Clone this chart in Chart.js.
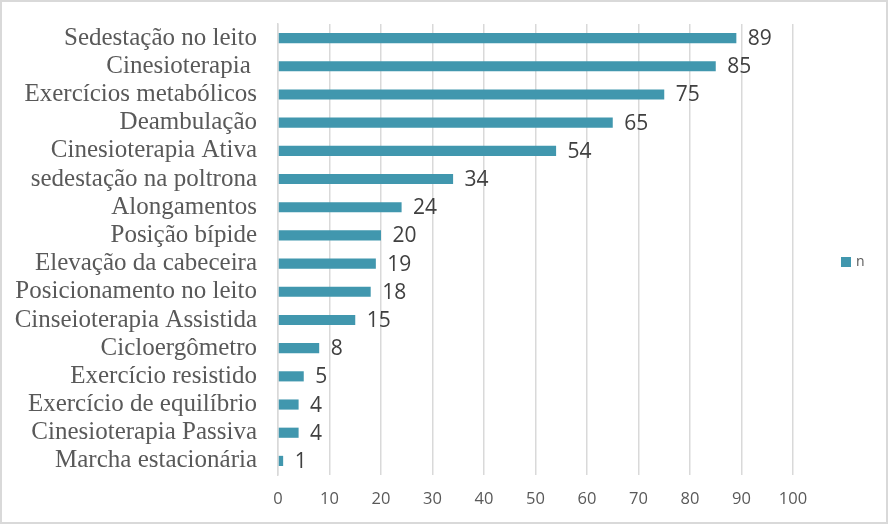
<!DOCTYPE html>
<html>
<head>
<meta charset="utf-8">
<script src="https://cdn.jsdelivr.net/npm/chart.js@4/dist/chart.umd.min.js"></script>
<style>
  html, body { margin: 0; padding: 0; background: #ffffff; }
  #grafico { display: block; }
</style>
</head>
<body>
<canvas id="grafico" width="888" height="524"></canvas>
<script>
const categorias = [
  'Sedestação no leito',
  'Cinesioterapia ',
  'Exercícios metabólicos',
  'Deambulação',
  'Cinesioterapia Ativa',
  'sedestação na poltrona',
  'Alongamentos',
  'Posição bípide',
  'Elevação da cabeceira',
  'Posicionamento no leito',
  'Cinseioterapia Assistida',
  'Cicloergômetro',
  'Exercício resistido',
  'Exercício de equilíbrio',
  'Cinesioterapia Passiva',
  'Marcha estacionária'
];
const valoresN = [89, 85, 75, 65, 54, 34, 24, 20, 19, 18, 15, 8, 5, 4, 4, 1];
const nomeSerie = 'n';

const corBarra = '#4197ae';
const corTexto = '#595959';
const corGrade = '#d9d9d9';

// rótulos de dados à direita de cada barra + moldura + legenda
const pluginRotulos = {
  id: 'rotulos',
  beforeDraw(chart) {
    const ctx = chart.ctx;
    ctx.save();
    ctx.fillStyle = '#ffffff';
    ctx.fillRect(0, 0, chart.width, chart.height);
    ctx.restore();
  },
  afterDatasetsDraw(chart) {
    const ctx = chart.ctx;
    const meta = chart.getDatasetMeta(0);
    ctx.save();
    ctx.font = '21px "Open Sans"';
    ctx.fillStyle = '#404040';
    ctx.textAlign = 'left';
    ctx.textBaseline = 'middle';
    meta.data.forEach((bar, i) => {
      ctx.fillText(String(valoresN[i]), bar.x + 11.5, bar.y + 1);
    });
    ctx.restore();
  },
  afterDraw(chart) {
    const ctx = chart.ctx;
    ctx.save();
    // legenda
    ctx.fillStyle = corBarra;
    ctx.fillRect(841, 257, 10, 10);
    ctx.fillStyle = corTexto;
    ctx.font = '14px "Open Sans"';
    ctx.textBaseline = 'middle';
    ctx.fillText(nomeSerie, 856, 262);
    // moldura
    ctx.strokeStyle = corGrade;
    ctx.lineWidth = 2;
    ctx.strokeRect(1, 1, chart.width - 2, chart.height - 2);
    ctx.restore();
  }
};

new Chart(document.getElementById('grafico'), {
  type: 'bar',
  data: {
    labels: categorias,
    datasets: [{
      label: nomeSerie,
      data: valoresN,
      backgroundColor: corBarra,
      borderWidth: 0,
      barPercentage: 0.36,
      categoryPercentage: 1
    }]
  },
  options: {
    indexAxis: 'y',
    responsive: false,
    animation: false,
    layout: { padding: { top: 24, right: 95, bottom: 0, left: 0 } },
    scales: {
      x: {
        min: 0,
        max: 100,
        afterFit: (scale) => { scale.height = 49; },
        ticks: {
          stepSize: 10,
          padding: 14,
          color: corTexto,
          font: { family: 'Open Sans', size: 16.5 }
        },
        grid: { color: corGrade, lineWidth: 1.5, drawTicks: false },
        border: { display: false }
      },
      y: {
        afterFit: (scale) => {
          scale.width = 278;
          scale.paddingTop = 0;
          scale.paddingBottom = 0;
        },
        ticks: {
          autoSkip: false,
          padding: 21,
          color: corTexto,
          font: { family: 'Liberation Serif', size: 25 }
        },
        grid: { display: false, drawTicks: false },
        border: { display: true, color: corGrade, width: 1.5 }
      }
    },
    plugins: {
      legend: { display: false },
      tooltip: { enabled: false }
    }
  },
  plugins: [pluginRotulos]
});
</script>
</body>
</html>
